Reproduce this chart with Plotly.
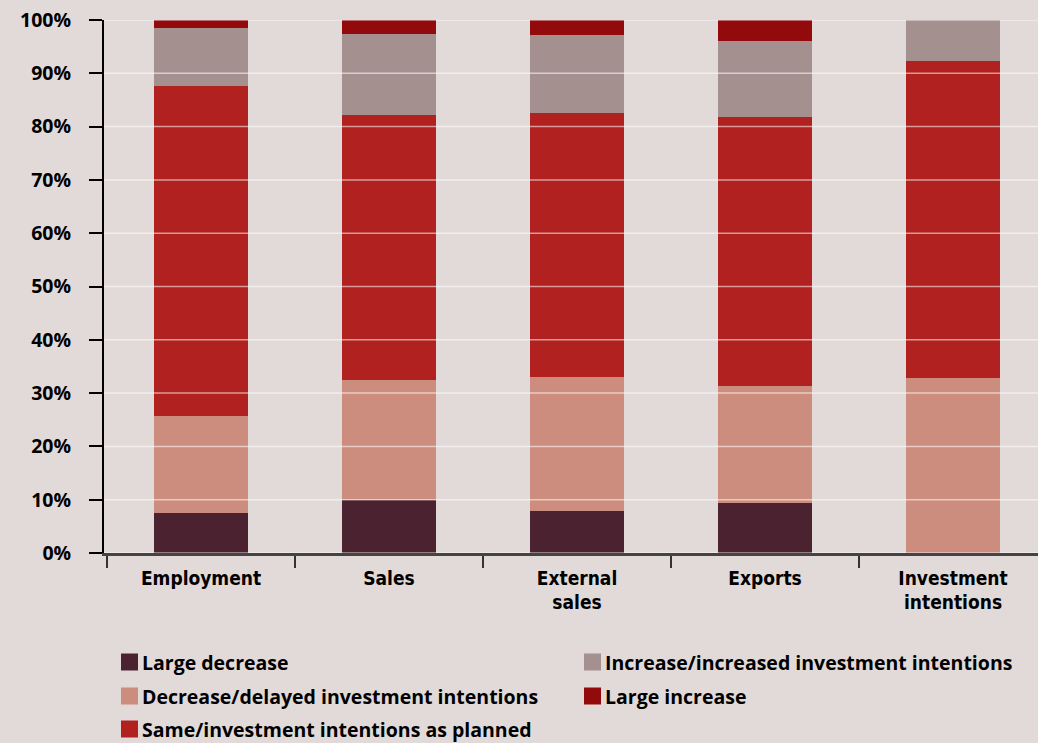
import plotly.graph_objects as go

# Categories on the x axis (line breaks for the two-line labels)
categories = ["Employment", "Sales", "External<br>sales", "Exports", "Investment<br>intentions"]

# Share of responses (%) per category, bottom to top of each stack
large_decrease = [7.5, 9.9, 7.9, 9.4, 0.0]
decrease = [18.2, 22.5, 25.1, 21.9, 32.8]
same = [61.9, 49.8, 49.6, 50.5, 59.5]
increase = [10.9, 15.2, 14.6, 14.3, 7.7]
large_increase = [1.5, 2.6, 2.8, 3.9, 0.0]

series_names = [
    "Large decrease",
    "Decrease/delayed investment intentions",
    "Same/investment intentions as planned",
    "Increase/increased investment intentions",
    "Large increase",
]
series_values = [large_decrease, decrease, same, increase, large_increase]
series_colors = ["#4B2230", "#CD8D7E", "#B0211F", "#A4918F", "#930A0D"]

y_ticks = list(range(0, 101, 10))
y_tick_labels = [f"{t}%" for t in y_ticks]

BG = "#E2DAD9"
W, H = 1038, 743

fig = go.Figure()
for name, vals, color in zip(series_names, series_values, series_colors):
    fig.add_trace(go.Bar(
        x=categories, y=vals, name=name,
        marker=dict(color=color, line=dict(width=0)),
        width=0.505, showlegend=False,
    ))

# light grid lines drawn over the bars
for t in y_ticks:
    fig.add_shape(type="line", xref="paper", yref="y", x0=0, x1=1, y0=t, y1=t,
                  line=dict(color="rgba(255,255,255,0.55)", width=1.5), layer="above")

# two-column key below the chart: left column first three series, right column the rest
key_slots = {
    "Large decrease": (121, 662),
    "Decrease/delayed investment intentions": (121, 696),
    "Same/investment intentions as planned": (121, 729),
    "Increase/increased investment intentions": (584, 662),
    "Large increase": (584, 696),
}
for name, color in zip(series_names, series_colors):
    px_x, px_y = key_slots[name]
    fig.add_shape(type="rect", xref="paper", yref="paper",
                  x0=(px_x - 104) / 934, x1=(px_x + 17 - 104) / 934,
                  y0=(553 - px_y - 8.5) / 533, y1=(553 - px_y + 8.5) / 533,
                  fillcolor=color, line=dict(width=0), layer="above")
    fig.add_annotation(text=name, xref="paper", yref="paper",
                       x=(px_x + 20 - 104) / 934, y=(553 - px_y) / 533,
                       xanchor="left", yanchor="middle", showarrow=False, borderpad=0,
                       font=dict(family="Open Sans", size=19.5, weight="bold", color="#000000"))

fig.update_layout(
    barmode="stack",
    width=W, height=H,
    paper_bgcolor=BG, plot_bgcolor=BG,
    margin=dict(l=104, r=0, t=20, b=190),
    font=dict(family="Open Sans", color="#000000"),
    showlegend=False,
    xaxis=dict(
        type="category", range=[-0.516, 4.452],
        tickson="boundaries", ticks="outside", ticklen=12, tickwidth=2, tickcolor="#333333",
        showline=True, linecolor="#444444", linewidth=2.5,
        tickfont=dict(family="DejaVu Sans Condensed", size=19, weight="bold", color="#000000"),
        ticklabelstandoff=6,
        showgrid=False, zeroline=False, fixedrange=True, automargin=False,
    ),
    yaxis=dict(
        range=[0, 100], tickvals=y_ticks, ticktext=y_tick_labels,
        ticks="outside", ticklen=13, tickwidth=2, tickcolor="#000000",
        showline=True, linecolor="#000000", linewidth=2,
        tickfont=dict(family="Open Sans", size=19.5, weight="bold", color="#000000"),
        ticklabelstandoff=14,
        showgrid=False, zeroline=False, fixedrange=True, automargin=False,
    ),
)

fig.write_html("out.html")
